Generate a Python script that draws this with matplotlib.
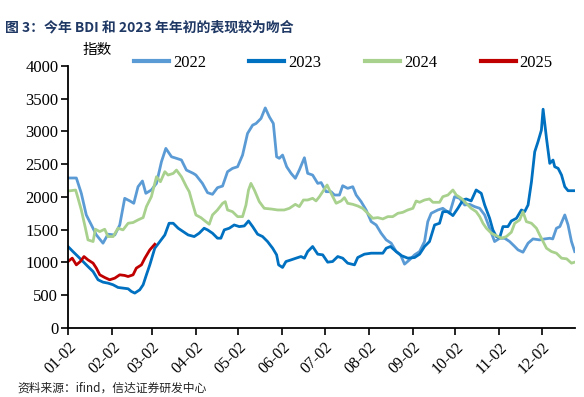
import matplotlib
matplotlib.use("Agg")
import matplotlib.pyplot as plt

# ---- data (x = days since Jan 2) ----
days_2022 = [0, 5.9, 9.4, 12.9, 16.5, 20, 24.7, 28.2, 33, 36.5, 40, 43.6, 46.4, 49.4, 52.5, 54.9, 58.8,
             62.4, 65.9, 69, 73, 76.5, 80, 83.5, 88.3, 90.2, 94.8, 98.4, 101.9, 105.4, 109, 112.5, 116,
             119.6, 123.1, 126.6, 130.2, 132.6, 136.1, 139.1, 142, 144.8, 147.1, 149, 151.3, 154.2, 157.3,
             160.3, 163.1, 166.7, 169, 172.5, 176.1, 178.5, 182, 185.5, 187.9, 191.4, 193.7, 197.2, 200.8,
             203.2, 206.7, 210.2, 213.8, 217.3, 220.8, 224.4, 227.9, 231.4, 234.5, 237.3, 240.8, 244.4,
             247.9, 251.4, 253.7, 256.1, 260.8, 264.3, 269.1, 272.6, 276.1, 279.7, 283.2, 286.7, 290.3,
             293.8, 297.3, 300.8, 304.4, 307.9, 311.4, 315, 317.3, 320.8, 324.4, 327.9, 332.6, 336.2, 339.7,
             341.8, 344.4, 346.8, 350.3, 352.6, 355, 357.3]
vals_2022 = [2290, 2290, 2056, 1726, 1573, 1421, 1295, 1432, 1420, 1573, 1980, 1940, 1904, 2157, 2244, 2056, 2107,
             2208, 2538, 2742, 2614, 2590, 2565, 2411, 2361, 2335, 2208, 2066, 2041, 2142, 2167, 2386, 2437,
             2462, 2640, 2970, 3097, 3122, 3199, 3360, 3223, 3122, 2614, 2590, 2640, 2462, 2361,
             2285, 2411, 2599, 2361, 2335, 2208, 2220, 2081, 2081, 2030, 2030, 2172, 2132, 2157,
             2030, 1929, 1802, 1624, 1573, 1447, 1345, 1295, 1167, 1117, 975, 1040, 1117,
             1167, 1320, 1624, 1751, 1802, 1827, 1751, 2005, 1980, 1878, 1888, 1853, 1827,
             1726, 1523, 1320, 1370, 1370, 1320, 1244, 1193, 1157, 1295, 1360, 1345, 1360, 1370,
             1360, 1523, 1548, 1726, 1573, 1320, 1167]

days_2023 = [0, 3.5, 7.1, 10.6, 14.1, 17.7, 21.2, 24.7, 28.2, 31.8, 35.3, 38.8, 42.4, 44.7, 47.1, 50.6, 53,
             55.3, 57.7, 61.2, 64.8, 68.3, 71.3, 74.2, 77.7, 81.2, 84.7, 89, 92.5, 96, 98.4, 101.9, 105.4,
             107.8, 110.2, 113.7, 117.2, 120.8, 124.3, 127.3, 130.2, 133.7, 137.2, 140.7, 144.3, 147.1,
             148.5, 151.3, 153.7, 157.3, 160.8, 164.3, 166.7, 169, 172.5, 176.1, 179.6, 183.1, 186.6,
             190.2, 193.7, 197.2, 202, 204.3, 209, 213.8, 218.4, 222, 224.4, 227.4, 231.4, 235, 239.6,
             244.4, 247.9, 251.4, 254.9, 258.5, 262, 264.3, 267.9, 271.4, 274.9, 278.5, 280.8, 284.3,
             287.8, 291.4, 293.8, 297.3, 299.6, 302, 304.4, 306.7, 310.2, 312.6, 316.2, 319.7, 322,
             324.4, 326.8, 329.1, 331.4, 333.8, 335, 337.4, 339.7, 342, 343.2, 345.6, 348, 350.3, 352.6,
             357.3]
vals_2023 = [1244, 1167, 1091, 1015, 938, 862, 736, 700, 685, 660, 619, 609, 599, 558, 533, 583, 660,
             812, 964, 1218, 1320, 1421, 1599, 1599, 1523, 1472, 1421, 1396, 1447, 1523, 1498, 1447, 1371,
             1371, 1498, 1523, 1573, 1548, 1558, 1634, 1548, 1432, 1396, 1320, 1218, 1117,
             964, 924, 1015, 1040, 1066, 1091, 1066, 1167, 1244, 1127, 1117, 1005, 1015,
             1091, 1066, 990, 964, 1076, 1127, 1142, 1142, 1142, 1218, 1244, 1167, 1106, 1066,
             1076, 1127, 1244, 1320, 1573, 1599, 1776, 1776, 1716, 1827, 1954, 1970, 1940,
             2107, 2056, 1878, 1675, 1497, 1396, 1380, 1548, 1548, 1634, 1675, 1802, 1776,
             1878, 2233, 2690, 2843, 3021, 3340, 2894, 2513, 2564, 2462, 2437, 2335, 2157, 2096,
             2096]

days_2024 = [0, 5.4, 7.1, 9.4, 11.8, 14.1, 17.7, 19.3, 22.4, 25.9, 28.2, 31.8, 35.3, 38.8, 42.4, 45.9, 49.4,
             53, 55.3, 58.8, 62.4, 65.2, 68.3, 70.6, 74.2, 76.5, 80, 83.5, 85.5, 87.8, 90.2, 93.7, 97.2,
             99.6, 101.9, 105.4, 109, 110.9, 112.5, 116, 119.6, 123.1, 125.5, 127.3, 129, 131.4, 134.9,
             138.4, 143.1, 147.8, 152.5, 156.1, 160.3, 163.1, 166, 169, 172.5, 174.9, 177.3, 179.6, 182.7,
             185.5, 189.1, 192.6, 194.9, 197.2, 200.8, 204.3, 207.8, 211.4, 214.9, 218.4, 222, 225.5, 229,
             232.6, 236.1, 239.6, 243.2, 245.5, 247.9, 251.4, 254.9, 257.3, 262, 264.3, 267.9, 271.4,
             273.8, 277.3, 280.8, 284.3, 287.8, 290.3, 292.6, 295, 298.5, 302, 305.6, 309.1, 312.6, 315,
             318.5, 320.8, 323.2, 326.8, 330.3, 332.6, 335, 337.4, 340.9, 344.4, 348, 351.6, 355, 357.3]
vals_2024 = [2091, 2106, 1980, 1802, 1573, 1345, 1320, 1508, 1472, 1508, 1396, 1396, 1523, 1498, 1599, 1610, 1650,
             1686, 1853, 2005, 2309, 2233, 2386, 2335, 2360, 2411, 2309, 2157, 2081, 1903, 1726, 1685, 1624,
             1584, 1726, 1802, 1903, 1929, 1802, 1776, 1700, 1700, 1878, 2107, 2208, 2107, 1929,
             1827, 1817, 1802, 1802, 1827, 1888, 1853, 1954, 1954, 1980, 1940, 2005, 2081, 2183,
             2056, 1904, 1940, 1990, 1904, 1888, 1863, 1827, 1751, 1675, 1685, 1665, 1700, 1700,
             1751, 1766, 1802, 1827, 1939, 1919, 1954, 1970, 1919, 1919, 2005, 2030, 2107,
             2030, 1980, 1904, 1827, 1776, 1700, 1599, 1523, 1447, 1411, 1370, 1396, 1462, 1599,
             1650, 1776, 1624, 1599, 1523, 1421, 1320, 1218, 1167, 1142, 1066, 1056, 990, 1005]

days_2025 = [0, 3, 5.9, 8.7, 11.3, 14.1, 17.7, 20, 22.4, 25.9, 29.4, 33, 36.5, 40, 42.4, 45.9, 48.2, 51.8,
             54.2, 57.7, 61.2]
vals_2025 = [1015, 1066, 964, 1015, 1091, 1040, 990, 914, 812, 771, 736, 761, 812, 802, 786, 812, 914, 964,
             1066, 1193, 1279]

tick_days = [0, 31, 59, 90, 120, 151, 181, 212, 243, 273, 304, 334]
tick_labels = ["01-02", "02-02", "03-02", "04-02", "05-02", "06-02", "07-02", "08-02", "09-02",
               "10-02", "11-02", "12-02"]
y_ticks = list(range(0, 4001, 500))

series = [("2022", days_2022, vals_2022, "#5B9BD5"),
          ("2023", days_2023, vals_2023, "#0070C0"),
          ("2024", days_2024, vals_2024, "#A9D18E"),
          ("2025", days_2025, vals_2025, "#C00000")]

plt.rcParams["font.family"] = ["Liberation Serif", "Noto Sans CJK SC", "DejaVu Sans"]

# ---- figure ----
fig = plt.figure(figsize=(5.84, 3.97), dpi=100)
ax = fig.add_axes([0.1164, 0.1738, 0.8682, 0.66])

cjk = ["Noto Sans CJK SC", "DejaVu Sans"]

for name, d, v, c in series:
    ax.plot(d, v, color=c, lw=2.0, label=name, solid_joinstyle="round")

ax.set_xlim(0, 357.5)
ax.set_ylim(0, 4000)
ax.set_yticks(y_ticks)
ax.set_yticklabels([str(t) for t in y_ticks], fontsize=12)
ax.set_xticks(tick_days)
ax.set_xticklabels(tick_labels, fontsize=11.5, rotation=45,
                   ha="right", va="top", rotation_mode="anchor")

for s in ["top", "right"]:
    ax.spines[s].set_visible(False)
for s in ["left", "bottom"]:
    ax.spines[s].set_linewidth(1.3)
    ax.spines[s].set_color("black")
ax.tick_params(axis="both", direction="out", length=5, width=1.2, colors="black")
ax.tick_params(axis="y", pad=2)
ax.tick_params(axis="x", pad=3)

leg = ax.legend(loc="center", bbox_to_anchor=(0.588, 0.842), bbox_transform=fig.transFigure,
                ncol=4, frameon=False, handlelength=2.1, handletextpad=0.25, columnspacing=2.6,
                prop={"size": 12})
for line in leg.get_lines():
    line.set_linewidth(3)

fig.text(0.166, 0.874, "指数", fontfamily=cjk, fontsize=10.5, ha="center", va="center")
fig.text(0.009, 0.932, "图 3：今年 BDI 和 2023 年年初的表现较为吻合", fontfamily=cjk, fontsize=10,
         fontweight="bold", color="#1F3864", ha="left", va="center")
fig.text(0.03, 0.022, "资料来源：ifind，信达证券研发中心", fontfamily=cjk, fontsize=8.5,
         color="#222222", ha="left", va="center")

fig.savefig("out.png", dpi=100)
